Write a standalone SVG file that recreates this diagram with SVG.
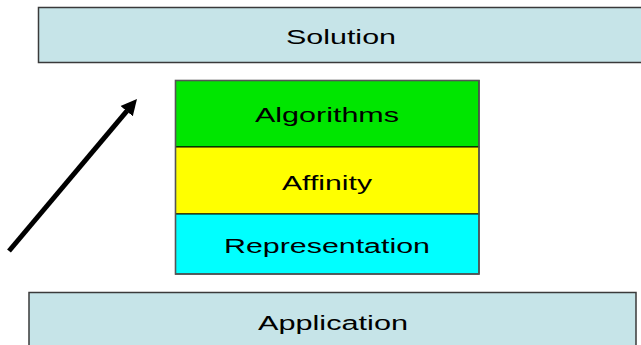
<svg xmlns="http://www.w3.org/2000/svg" width="641" height="345" viewBox="0 0 641 345">
  <style>
    .band { fill: #C6E4E8; stroke: #3a3a3a; stroke-width: 1.5; }
    .layer { stroke: #000; stroke-width: 1; }
    .frame { fill: none; stroke: #555; stroke-width: 1.6; }
    .lbl { font-family: "Liberation Sans", Arial, sans-serif; font-size: 20px; fill: #000; text-anchor: middle; }
  </style>
  <defs>
    <marker id="head" markerUnits="userSpaceOnUse" markerWidth="17" markerHeight="18" viewBox="0 -9 17 18" refX="0.5" refY="0" orient="auto">
      <path d="M0,-8 L16,0 L0,8 z" fill="#000"/>
    </marker>
  </defs>

  <rect width="641" height="345" fill="#fff"/>

  <g id="solution">
    <rect class="band" x="38.5" y="7.5" width="610" height="55"/>
    <text class="lbl" x="341" y="44" textLength="110" lengthAdjust="spacingAndGlyphs">Solution</text>
  </g>

  <g id="algorithms">
    <rect class="layer" x="175.5" y="80.5" width="303.5" height="66.5" fill="#00E600"/>
    <text class="lbl" x="327" y="122" textLength="144" lengthAdjust="spacingAndGlyphs">Algorithms</text>
  </g>

  <g id="affinity">
    <rect class="layer" x="175.5" y="147" width="303.5" height="67" fill="#FFFF00"/>
    <text class="lbl" x="327" y="190" textLength="90" lengthAdjust="spacingAndGlyphs">Affinity</text>
  </g>

  <g id="representation">
    <rect class="layer" x="175.5" y="214" width="303.5" height="60" fill="#00FFFF"/>
    <text class="lbl" x="327" y="253" textLength="206" lengthAdjust="spacingAndGlyphs">Representation</text>
  </g>

  <rect class="frame" x="175.5" y="80.5" width="303.5" height="193.5"/>

  <g id="application">
    <rect class="band" x="29" y="292.5" width="607" height="60"/>
    <text class="lbl" x="333" y="330" textLength="150" lengthAdjust="spacingAndGlyphs">Application</text>
  </g>

  <g id="connectors">
    <line x1="9" y1="251" x2="127" y2="110.8" stroke="#000" stroke-width="5" marker-end="url(#head)"/>
  </g>
</svg>
